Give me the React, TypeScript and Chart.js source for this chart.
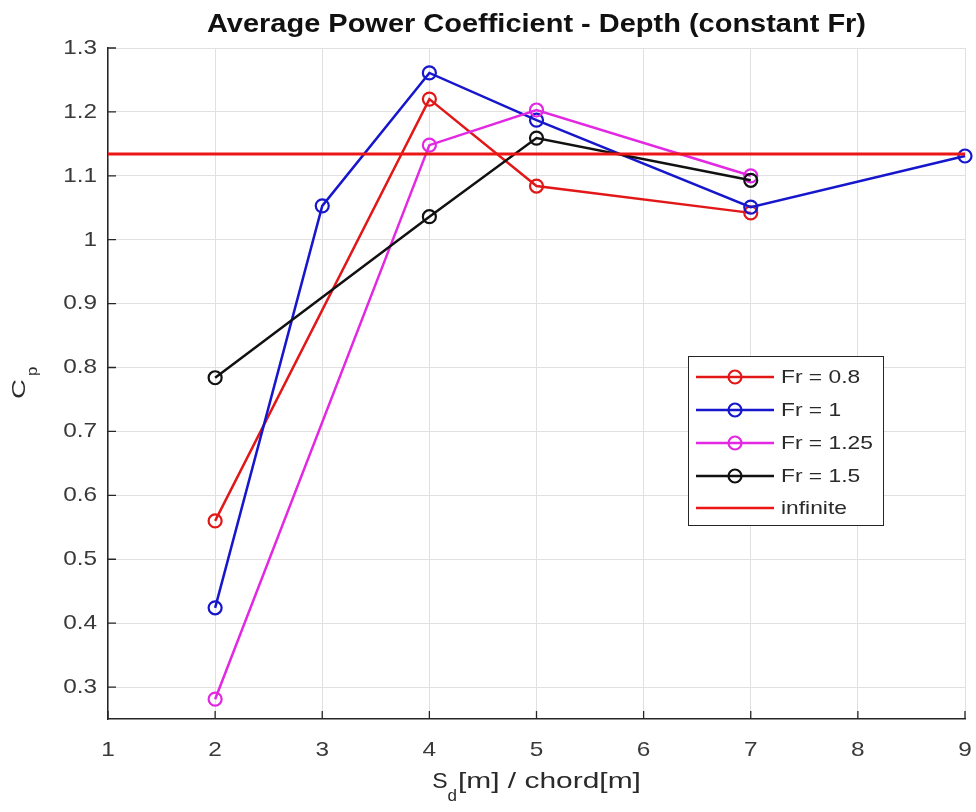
import React, { useEffect, useRef } from "react";
import { Chart, registerables } from "chart.js";

Chart.register(...registerables);

const TITLE = "Average Power Coefficient - Depth (constant Fr)";
const X_LABEL_MAIN = "S";
const X_LABEL_SUB = "d";
const X_LABEL_REST = "[m] / chord[m]";
const Y_LABEL_MAIN = "C";
const Y_LABEL_SUB = "p";
const X_TICKS = [1, 2, 3, 4, 5, 6, 7, 8, 9];
const Y_TICKS = [0.3, 0.4, 0.5, 0.6, 0.7, 0.8, 0.9, 1.0, 1.1, 1.2, 1.3];
const X_MIN = 1;
const X_MAX = 9;
const Y_MIN = 0.25;
const Y_MAX = 1.3;

const X_FR08 = [2, 4, 5, 7];
const Y_FR08 = [0.56, 1.22, 1.084, 1.042];
const X_FR1 = [2, 3, 4, 5, 7, 9];
const Y_FR1 = [0.424, 1.053, 1.261, 1.187, 1.051, 1.131];
const X_FR125 = [2, 4, 5, 7];
const Y_FR125 = [0.281, 1.148, 1.203, 1.1];
const X_FR15 = [2, 4, 5, 7];
const Y_FR15 = [0.784, 1.036, 1.159, 1.093];
const X_INFINITE = [1, 9];
const Y_INFINITE = [1.134, 1.134];

const SERIES_LABELS = ["Fr = 0.8", "Fr = 1", "Fr = 1.25", "Fr = 1.5", "infinite"];
const SERIES_COLORS = ["rgb(226,24,24)", "rgb(22,22,205)", "rgb(226,40,226)", "rgb(17,17,17)", "rgb(236,22,22)"];

const FONT = '"Liberation Sans", Arial, Helvetica, sans-serif';
const AXIS_COLOR = "#262626";

const pts = (xs: number[], ys: number[]) => xs.map((x, i) => ({ x, y: ys[i] }));

function stretchedText(ctx: any, text: string, x: number, y: number, font: string, sx: number, align: string, baseline: string) {
  ctx.save();
  ctx.font = font;
  ctx.textAlign = align;
  ctx.textBaseline = baseline;
  ctx.translate(x, y);
  ctx.scale(sx, 1);
  ctx.fillText(text, 0, 0);
  ctx.restore();
}

const decorPlugin = {
  id: "decor",
  afterDraw(chart: any) {
    const { ctx, chartArea } = chart;
    const { left, right, bottom } = chartArea;
    const xs = chart.scales.x;
    const ys = chart.scales.y;
    ctx.save();

    // inward tick marks
    ctx.strokeStyle = AXIS_COLOR;
    ctx.lineWidth = 1.3;
    ctx.beginPath();
    X_TICKS.forEach((t) => {
      const px = xs.getPixelForValue(t);
      ctx.moveTo(px, bottom);
      ctx.lineTo(px, bottom - 8);
    });
    Y_TICKS.forEach((t) => {
      const py = ys.getPixelForValue(t);
      ctx.moveTo(left, py);
      ctx.lineTo(left + 8, py);
    });
    ctx.stroke();

    // tick labels
    ctx.fillStyle = "#3a3a3a";
    const tickFont = `21px ${FONT}`;
    Y_TICKS.forEach((t) => {
      const py = ys.getPixelForValue(t);
      stretchedText(ctx, String(Number(t.toFixed(2))), left - 11, py, tickFont, 1.16, "right", "middle");
    });
    X_TICKS.forEach((t) => {
      const px = xs.getPixelForValue(t);
      stretchedText(ctx, String(t), px, bottom + 31, tickFont, 1.16, "center", "middle");
    });

    // title
    ctx.fillStyle = "#111";
    const titleFont = `bold 25px ${FONT}`;
    ctx.font = titleFont;
    const tw = ctx.measureText(TITLE).width;
    const tsx = 659 / tw;
    stretchedText(ctx, TITLE, (left + right) / 2, 32, titleFont, tsx, "center", "alphabetic");

    // x label with subscript
    ctx.fillStyle = "#2a2a2a";
    const mainFont = `22px ${FONT}`;
    const subFont = `17px ${FONT}`;
    const restSx = 1.36;
    ctx.font = mainFont;
    const wS = ctx.measureText(X_LABEL_MAIN).width * 1.05;
    const wRest = ctx.measureText(X_LABEL_REST).width * restSx;
    ctx.font = subFont;
    const wd = ctx.measureText(X_LABEL_SUB).width;
    const total = wS + wd + 1 + wRest;
    const x0 = (left + right) / 2 - total / 2;
    const by = 788;
    stretchedText(ctx, X_LABEL_MAIN, x0, by, mainFont, 1.05, "left", "alphabetic");
    stretchedText(ctx, X_LABEL_SUB, x0 + wS, by + 13, subFont, 1, "left", "alphabetic");
    stretchedText(ctx, X_LABEL_REST, x0 + wS + wd + 1, by, mainFont, restSx, "left", "alphabetic");

    // y label with subscript (rotated)
    ctx.save();
    ctx.translate(25, 399);
    ctx.rotate(-Math.PI / 2);
    ctx.font = `19px ${FONT}`;
    ctx.textAlign = "left";
    ctx.textBaseline = "alphabetic";
    ctx.save();
    ctx.scale(1.45, 1);
    ctx.fillText(Y_LABEL_MAIN, 0, 0);
    ctx.restore();
    ctx.font = `14px ${FONT}`;
    ctx.save();
    ctx.translate(23, 12);
    ctx.scale(1.2, 1);
    ctx.fillText(Y_LABEL_SUB, 0, 0);
    ctx.restore();
    ctx.restore();

    // legend
    const lx = 688, ly = 356, lw = 195, lh = 169;
    ctx.fillStyle = "#fff";
    ctx.fillRect(lx, ly, lw, lh);
    ctx.strokeStyle = AXIS_COLOR;
    ctx.lineWidth = 1;
    ctx.strokeRect(lx + 0.5, ly + 0.5, lw, lh);
    const rowY = [377, 410, 443, 476, 508];
    chart.data.datasets.forEach((ds: any, i: number) => {
      const y = rowY[i];
      ctx.strokeStyle = ds.borderColor;
      ctx.lineWidth = 2.5;
      ctx.beginPath();
      ctx.moveTo(696, y);
      ctx.lineTo(774, y);
      ctx.stroke();
      if (ds.pointRadius > 0) {
        ctx.lineWidth = 2.2;
        ctx.beginPath();
        ctx.arc(735, y, 6.5, 0, Math.PI * 2);
        ctx.stroke();
      }
      ctx.fillStyle = "#2a2a2a";
      stretchedText(ctx, ds.label, 781, y + 1, `19px ${FONT}`, 1.2, "left", "middle");
    });

    ctx.restore();
  },
};

export default function App() {
  const ref = useRef<HTMLCanvasElement>(null);
  useEffect(() => {
    if (!ref.current) return;
    const mk = (i: number, xs: number[], ys: number[], order: number, marker = true) => ({
      label: SERIES_LABELS[i],
      data: pts(xs, ys),
      borderColor: SERIES_COLORS[i],
      backgroundColor: "rgba(0,0,0,0)",
      borderWidth: marker ? 2.5 : 3,
      pointRadius: marker ? 6.5 : 0,
      pointHoverRadius: marker ? 6.5 : 0,
      pointBorderWidth: 2.2,
      pointBackgroundColor: "rgba(0,0,0,0)",
      pointBorderColor: SERIES_COLORS[i],
      tension: 0,
      fill: false,
      clip: false,
      order,
    });
    const chart = new Chart(ref.current, {
      type: "line",
      data: {
        datasets: [
          mk(0, X_FR08, Y_FR08, 5),
          mk(1, X_FR1, Y_FR1, 4),
          mk(2, X_FR125, Y_FR125, 3),
          mk(3, X_FR15, Y_FR15, 2),
          mk(4, X_INFINITE, Y_INFINITE, 1, false),
        ],
      },
      options: {
        animation: false,
        responsive: false,
        maintainAspectRatio: false,
        layout: { padding: { left: 0, top: 48, right: 11, bottom: 0 } },
        plugins: { legend: { display: false }, title: { display: false }, tooltip: { enabled: false } },
        scales: {
          x: {
            type: "linear",
            min: X_MIN,
            max: X_MAX,
            afterFit: (s: any) => { s.height = 93; s.paddingLeft = 0; s.paddingRight = 0; },
            afterBuildTicks: (s: any) => { s.ticks = X_TICKS.map((v) => ({ value: v })); },
            grid: { color: "#e0e0e0", lineWidth: 1, drawTicks: false },
            border: { color: AXIS_COLOR, width: 1.5 },
            ticks: { display: false },
          },
          y: {
            type: "linear",
            min: Y_MIN,
            max: Y_MAX,
            afterFit: (s: any) => { s.width = 108; s.paddingTop = 0; s.paddingBottom = 0; },
            afterBuildTicks: (s: any) => { s.ticks = Y_TICKS.map((v) => ({ value: v })); },
            grid: { color: "#e0e0e0", lineWidth: 1, drawTicks: false },
            border: { color: AXIS_COLOR, width: 1.5 },
            ticks: { display: false },
          },
        },
      },
      plugins: [decorPlugin],
    });
    return () => chart.destroy();
  }, []);
  return (
    <div style={{ position: "absolute", left: 0, top: 0, width: 976, height: 812, background: "#fff" }}>
      <canvas ref={ref} width={976} height={812} style={{ display: "block" }} />
    </div>
  );
}
